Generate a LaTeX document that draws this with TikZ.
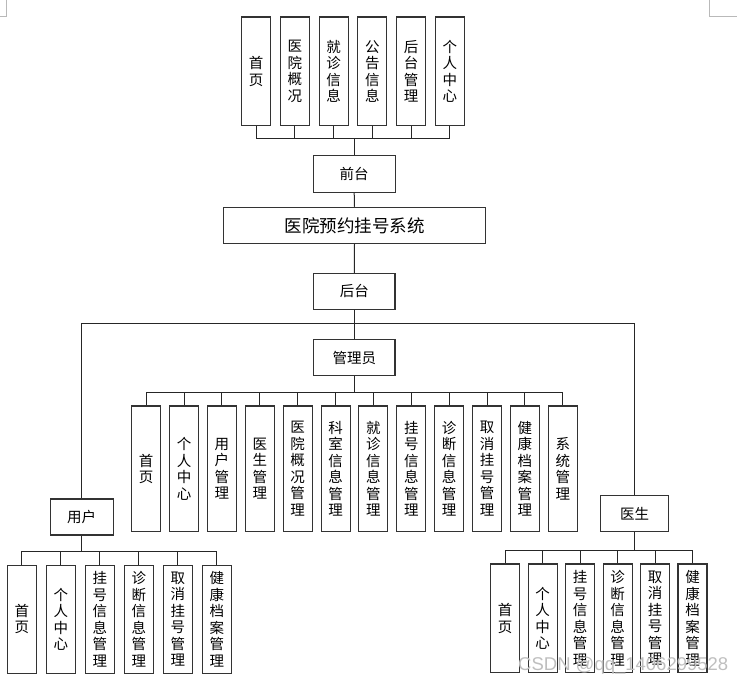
\documentclass[tikz,border=0pt]{standalone}
\usepackage{fontspec}
\newfontfamily\cjk{Noto Sans CJK SC}
\newfontfamily\wmfont{Liberation Sans}
\tikzset{
  box/.style={draw=black!80, line width=1.1pt, fill=white, inner sep=0pt,
    font=\cjk\fontsize{14.5}{16.5}\selectfont, align=center},
  vbox/.style={box, minimum width=29pt},
  hbox/.style={box, minimum height=36pt},
  link/.style={draw=black!85, line width=1pt},
  cropmark/.style={draw=gray!55, line width=0.8pt}
}
\begin{document}
\begin{tikzpicture}[x=1pt,y=-1pt]
\useasboundingbox (0,0) rectangle (745,686);
% crop marks
\draw[cropmark] (6.3,0) -- (6.3,16) -- (0,16);
\draw[cropmark] (709,0) -- (709,16) -- (737,16);
% top row
\foreach \lbl [count=\i] in {{首\\页},{医\\院\\概\\况},{就\\诊\\信\\息},{公\\告\\信\\息},{后\\台\\管\\理},{个\\人\\中\\心}}
  \node[vbox, minimum height=108.6pt] (t\i) at ({256.2+38.72*(\i-1)}, 71.3) {\lbl};
\node[hbox, minimum width=81.7pt, minimum height=37pt] (qt) at (354.2,173.8) {前台};
\node[hbox, minimum width=262.4pt, font=\cjk\fontsize{17.5}{20}\selectfont] (title) at (354.5,225.3) {医院预约挂号系统};
\node[hbox, minimum width=81.3pt] (ht) at (354.3,291.3) {后台};
\node[hbox, minimum width=81.3pt, minimum height=36.4pt] (gly) at (354.3,357.5) {管理员};
\node[hbox, minimum width=63.3pt] (user) at (81.7,517) {用户};
\node[hbox, minimum width=68pt] (doc) at (634.7,513.7) {医生};
% admin row
\foreach \lbl [count=\i] in {{首\\页},{个\\人\\中\\心},{用\\户\\管\\理},{医\\生\\管\\理},{医\\院\\概\\况\\管\\理},{科\\室\\信\\息\\管\\理},{就\\诊\\信\\息\\管\\理},{挂\\号\\信\\息\\管\\理},{诊\\断\\信\\息\\管\\理},{取\\消\\挂\\号\\管\\理},{健\\康\\档\\案\\管\\理},{系\\统\\管\\理}}
  \node[vbox, minimum height=125.7pt] (a\i) at ({146.2+37.87*(\i-1)}, 468.8) {\lbl};
% user row
\foreach \lbl [count=\i] in {{首\\页},{个\\人\\中\\心},{挂\\号\\信\\息\\管\\理},{诊\\断\\信\\息\\管\\理},{取\\消\\挂\\号\\管\\理},{健\\康\\档\\案\\管\\理}}
  \node[vbox, minimum height=108.3pt] (u\i) at ({21.8+39*(\i-1)}, 619.2) {\lbl};
% doctor row
\foreach \lbl [count=\i] in {{首\\页},{个\\人\\中\\心},{挂\\号\\信\\息\\管\\理},{诊\\断\\信\\息\\管\\理},{取\\消\\挂\\号\\管\\理},{健\\康\\档\\案\\管\\理}}
  \node[vbox, minimum height=108.7pt] (d\i) at ({505.2+37.46*(\i-1)}, 618.3) {\lbl};
% connectors: top
\coordinate (tb) at (354.3,138.7);
\draw[link] (t1.south) -- (t1.south |- tb) -- (t6.south |- tb) -- (t6.south);
\foreach \i in {2,...,5} \draw[link] (t\i.south) -- (t\i.south |- tb);
\draw[link] (qt.north) -- (qt.north |- tb);
\draw[link] (qt.south) -- (title.north);
\draw[link] (title.south) -- (ht.north);
\draw[link] (ht.south) -- (gly.north);
% main horizontal
\coordinate (hl) at (354.3,323);
\draw[link] (user.north) -- (user.north |- hl) -- (doc.north |- hl) -- (doc.north);
% admin bus
\coordinate (ab) at (354.3,392.3);
\draw[link] (gly.south) -- (gly.south |- ab);
\draw[link] (a1.north) -- (a1.north |- ab) -- (a12.north |- ab) -- (a12.north);
\foreach \i in {2,...,11} \draw[link] (a\i.north) -- (a\i.north |- ab);
% user bus
\coordinate (ub) at (81.7,551);
\draw[link] (user.south) -- (user.south |- ub);
\draw[link] (u1.north) -- (u1.north |- ub) -- (u6.north |- ub) -- (u6.north);
\foreach \i in {2,...,5} \draw[link] (u\i.north) -- (u\i.north |- ub);
% doctor bus
\coordinate (db) at (634.5,550.7);
\draw[link] (doc.south) -- (doc.south |- db);
\draw[link] (d1.north) -- (d1.north |- db) -- (d6.north |- db) -- (d6.north);
\foreach \i in {2,...,5} \draw[link] (d\i.north) -- (d\i.north |- db);
% watermark
\node[font=\wmfont\fontsize{18.5}{18.5}\selectfont, text=gray!50, anchor=west, inner sep=0pt] (wm) at (518,666) {CSDN @qq\_1406299528};
\end{tikzpicture}
\end{document}
